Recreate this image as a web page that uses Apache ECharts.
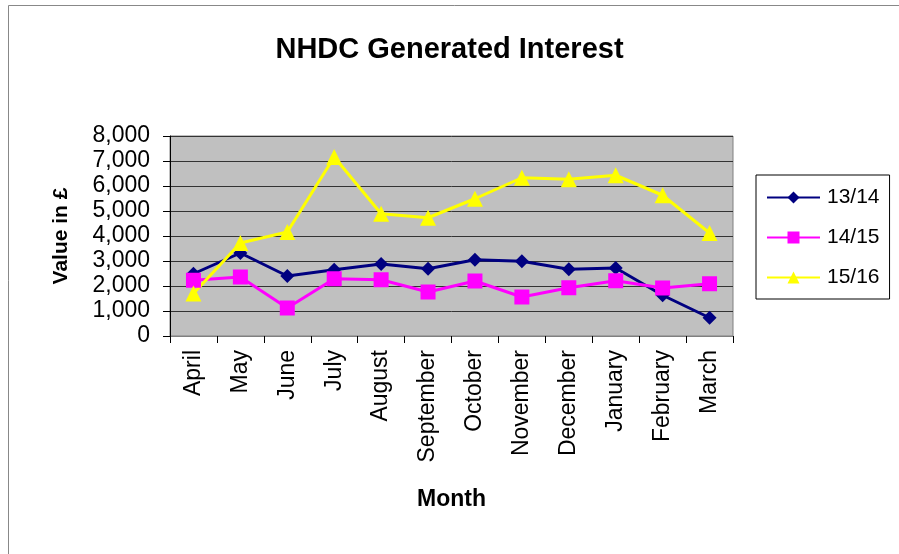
<!DOCTYPE html>
<html><head><meta charset="utf-8">
<script src="https://cdn.jsdelivr.net/npm/echarts@6/dist/echarts.min.js"></script>
<style>html,body{margin:0;padding:0;background:#fff}#c{width:899px;height:554px}</style>
</head><body><div id="c"></div>
<script>
const months = ['April','May','June','July','August','September','October','November','December','January','February','March'];
const s1314 = [2490, 3320, 2400, 2650, 2880, 2690, 3050, 2990, 2670, 2720, 1630, 730];
const s1415 = [2230, 2360, 1120, 2290, 2250, 1760, 2200, 1560, 1930, 2210, 1920, 2090];
const s1516 = [1700, 3720, 4160, 7160, 4890, 4730, 5490, 6330, 6270, 6430, 5630, 4120];
const seriesNames = ['13/14','14/15','15/16'];
const colors = ['#000080','#ff00ff','#ffff00'];
const symbols = ['diamond','rect','triangle'];
const symbolSizes = [14, 15, 16];
const dataSets = [s1314, s1415, s1516];
const font = 'Liberation Sans, Arial, sans-serif';

const chart = echarts.init(document.getElementById('c'));
chart.setOption({
  animation:false,
  backgroundColor:'#fff',
  graphic:[{type:'rect', shape:{x:8.5,y:5.5,width:1000,height:1000}, style:{fill:'none',stroke:'#888',lineWidth:1}}],
  title:{text:'NHDC Generated Interest', left:'center', top:30, textStyle:{fontFamily:font, fontSize:29, fontWeight:'bold', color:'#000'}},
  legend:{orient:'vertical', left:756, top:175, padding:[12,10,11,10], itemGap:19,
    borderColor:'#000', borderWidth:1, itemWidth:53, itemHeight:15,
    textStyle:{fontFamily:font, fontSize:21, color:'#000', padding:[0,0,0,2]},
    data:seriesNames},
  grid:{left:170, right:166, top:136, bottom:218, show:true, backgroundColor:'#c0c0c0', borderColor:'#808080', borderWidth:1},
  xAxis:{type:'category', data:months, boundaryGap:true,
    name:'Month', nameLocation:'middle', nameGap:152,
    nameTextStyle:{fontFamily:font, fontSize:23, fontWeight:'bold', color:'#000'},
    axisLine:{lineStyle:{color:'#808080', width:1}},
    axisTick:{show:true, length:7, lineStyle:{color:'#000'}},
    axisLabel:{rotate:90, margin:14, fontFamily:font, fontSize:23, color:'#000'}},
  yAxis:{type:'value', min:0, max:8000, interval:1000,
    name:'Value in £', nameLocation:'middle', nameGap:98,
    nameTextStyle:{fontFamily:font, fontSize:21, fontWeight:'bold', color:'#000'},
    axisLine:{show:true, lineStyle:{color:'#000', width:1}},
    axisTick:{show:true, length:7, lineStyle:{color:'#000'}},
    axisLabel:{margin:20, fontFamily:font, fontSize:23, color:'#000',
      formatter:v=>v.toLocaleString('en-GB')},
    splitLine:{show:true, lineStyle:{color:'#333', width:1}}},
  series: dataSets.map((d,i)=>({
    name:seriesNames[i], type:'line', data:d,
    symbol:symbols[i], symbolSize:symbolSizes[i],
    lineStyle:{color:colors[i], width:3},
    itemStyle:{color:colors[i]}
  }))
});
</script></body></html>
